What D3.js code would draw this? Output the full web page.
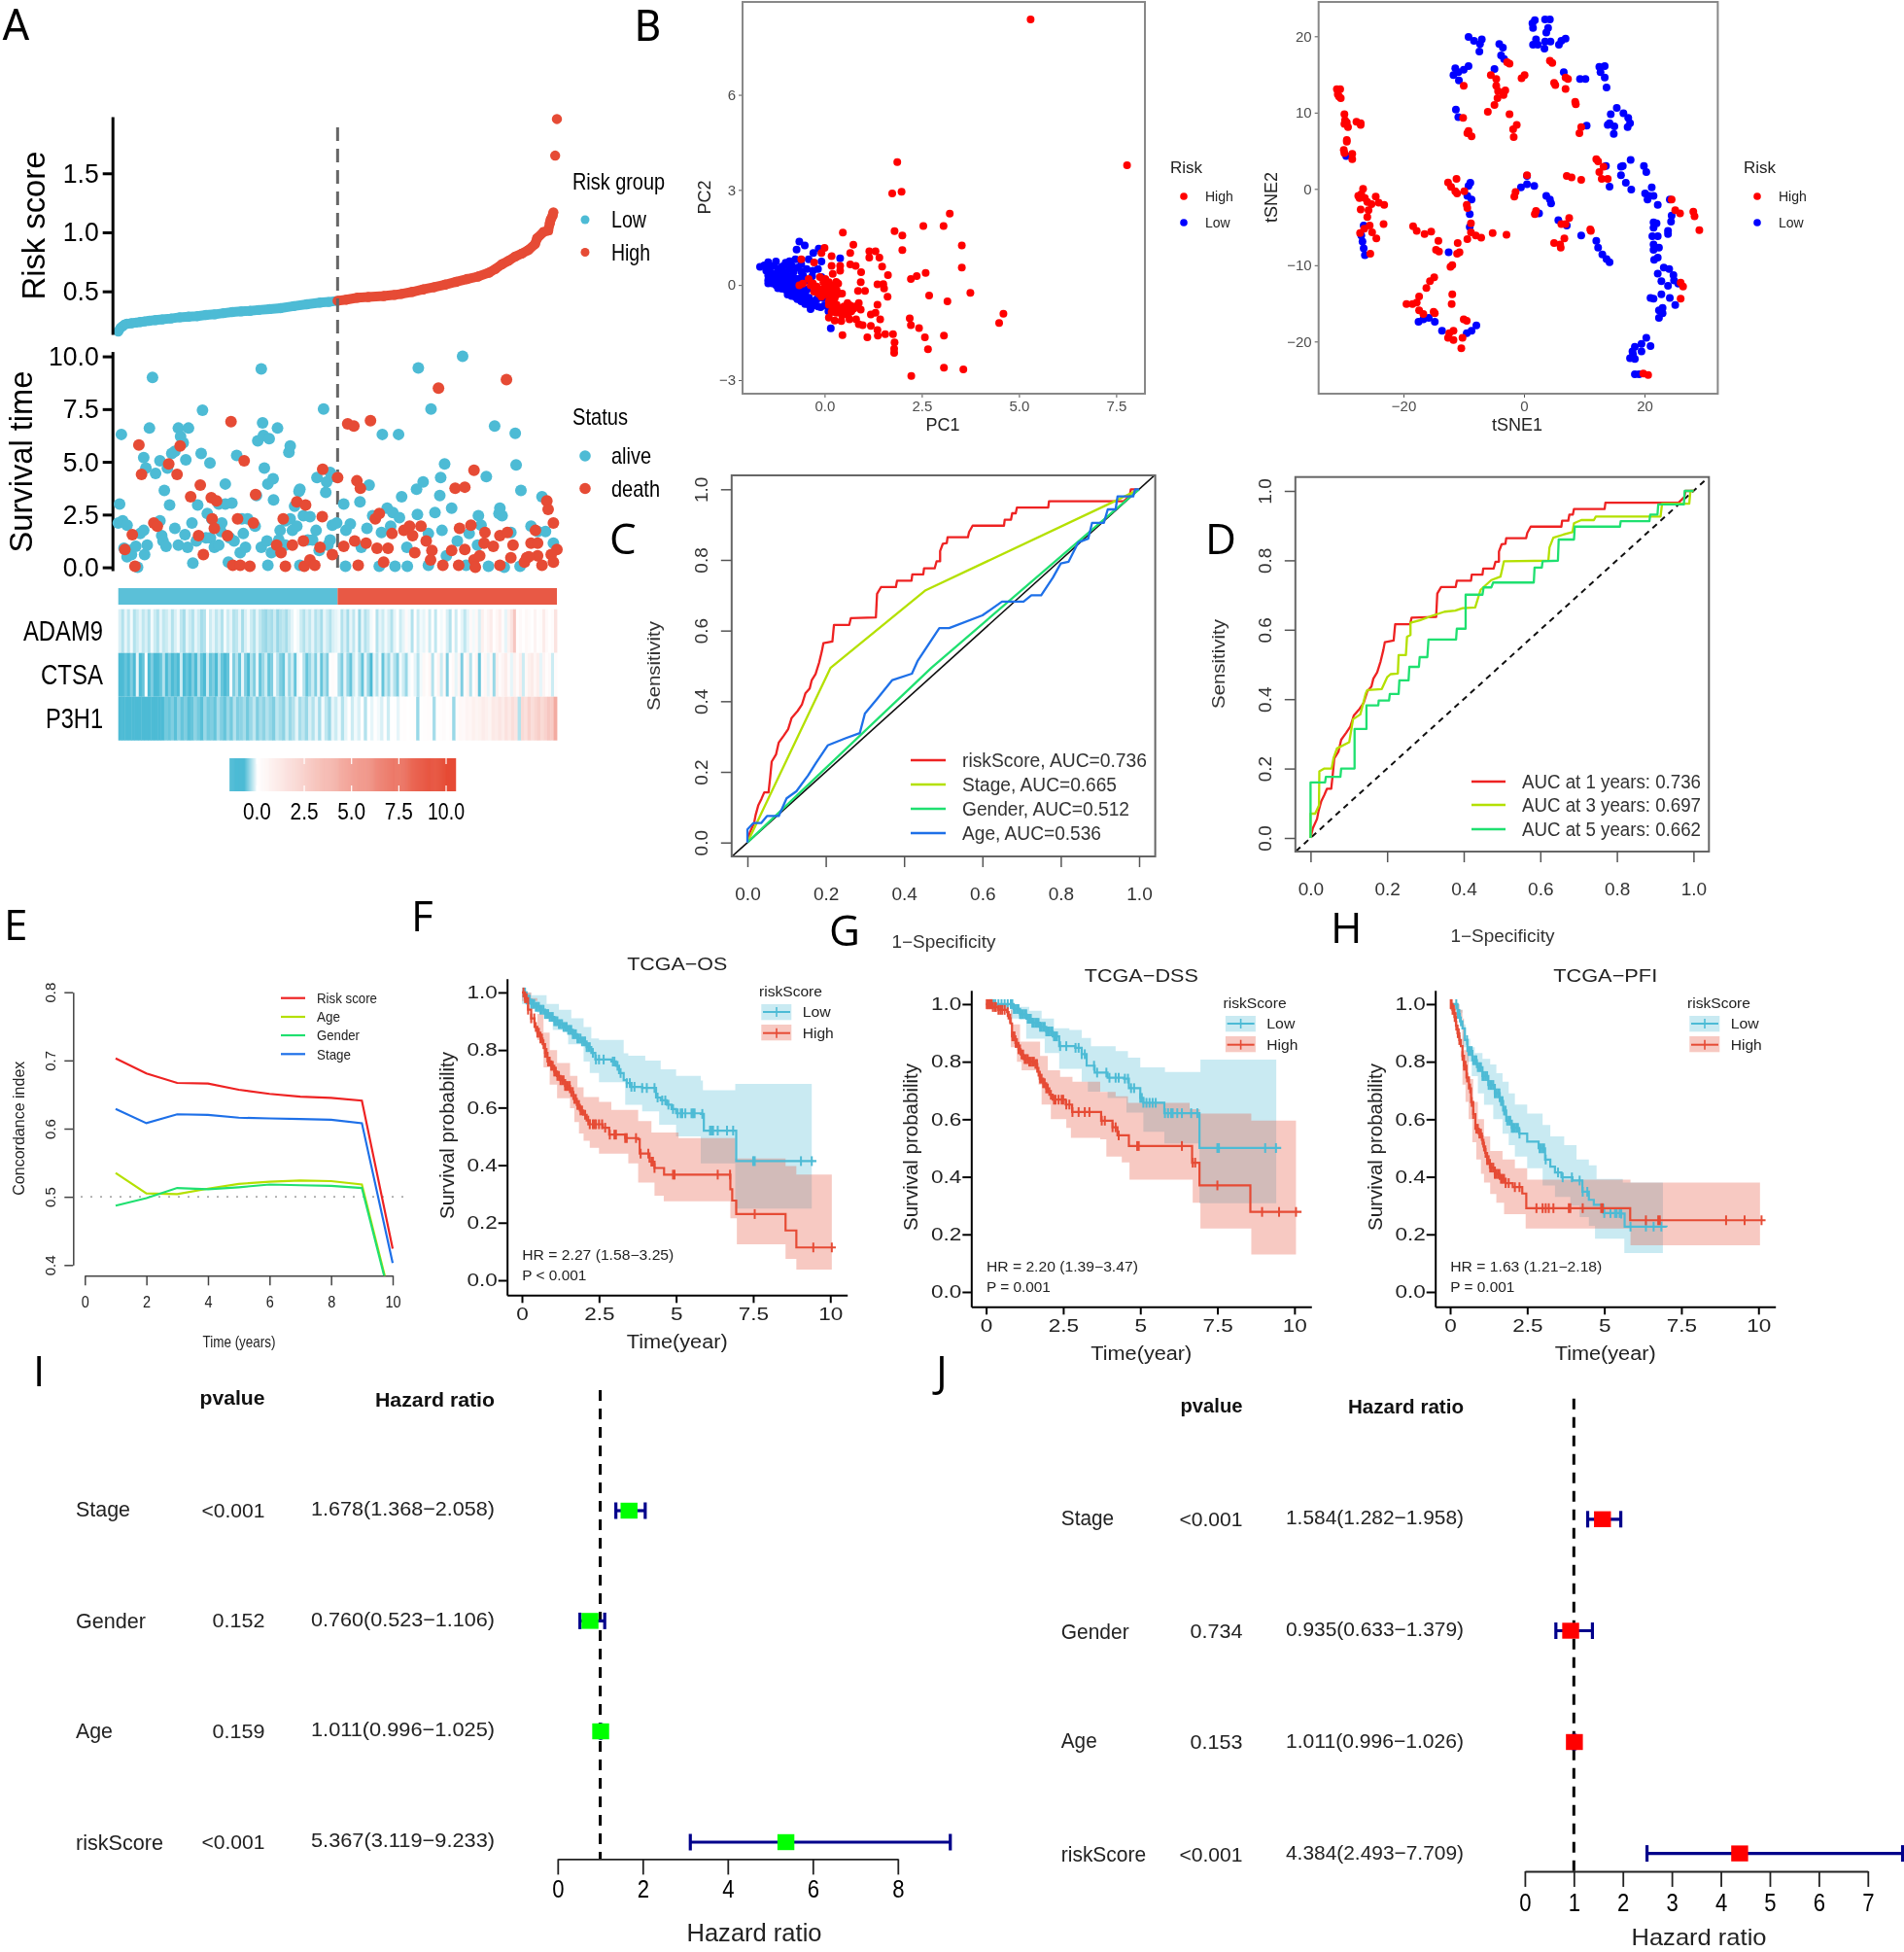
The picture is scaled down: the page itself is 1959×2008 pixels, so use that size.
<!DOCTYPE html>
<html><head><meta charset="utf-8">
<script src="https://cdn.jsdelivr.net/npm/d3@7/dist/d3.min.js"></script>
<style>html,body{margin:0;padding:0;background:#fff}svg{display:block;filter:blur(.45px)}text{font-family:"Liberation Sans",Arial,sans-serif}</style>
</head><body>
<script>
// ---------- Panel A data ----------
const riskCurve=[[0,.16],[.5,.19],[1,.205],[1.5,.22],[2,.225],[3,.23],[4,.235],[5,.24],[6,.245],[7,.25],[8.5,.256],[10,.262],[12,.27],[14,.28],[16,.285],[18,.29],[20,.3],[22,.305],[24,.315],[26,.325],[28,.33],[30,.335],[32,.342],[34.5,.35],[37,.358],[40,.375],[43,.39],[46,.405],[48,.41],[50,.42],[52,.43],[54.5,.446],[57,.452],[60.5,.46],[63,.47],[64.5,.478],[67,.495],[69.5,.516],[72,.535],[74.5,.557],[77,.58],[79.5,.604],[82,.625],[84.5,.658],[86,.69],[87.5,.73],[89,.76],[90.5,.795],[92,.82],[93.5,.85],[95,.9],[95.5,.95],[97,1.005],[98,1.015],[98.4,1.08],[98.6,1.11],[99,1.14],[99.2,1.17]];
const riskOutliers=[[99.6,1.65],[100,1.96]];
const survAlive=[[.7,6.3],[.3,3],[0,2.1],[1,2.2],[2,2],[1.3,.9],[2.5,.8],[2,.5],[3,.6],[4,1],[4.4,0],[6,.6],[5,1.6],[6.6,1.05],[5.8,1.75],[7.1,6.6],[5.8,5.2],[6.3,4.7],[7.8,9],[8.5,4.45],[9.5,5.05],[9.5,2.2],[10.5,3.65],[11.2,4.7],[11.7,2.95],[12.2,5.4],[12.9,5.5],[12.9,1.85],[9.9,1.5],[10.2,1.25],[10.9,1],[13.7,6.6],[14.2,6.2],[14.8,5.9],[16,6.6],[15.4,5.1],[13.7,1.05],[15.2,1.55],[15.8,.95],[16.8,2.1],[17,.2],[18.1,2.95],[17.8,1.25],[18.9,5.4],[19.2,7.45],[20.9,4.95],[20.3,2.55],[21.3,2.3],[20,1.4],[21,1.4],[22.9,3],[24.4,3.95],[24.4,3],[25.9,3.05],[21.9,.95],[22.9,1.05],[23.6,2.1],[23.4,1.7],[25.1,.25],[25.4,1.4],[26.4,1.25],[27,5.3],[27.8,.7],[28.2,2.3],[28.5,1.6],[29.5,2.3],[29,.95],[31.2,1.95],[31.5,3.4],[31.8,6],[32.6,9.4],[32.9,6.85],[33.1,6.25],[33.3,4.7],[34.4,6.1],[36.3,6.6],[34.1,3.95],[35.3,4.2],[35.4,3.2],[32.6,.95],[33.9,1.25],[34.1,.1],[34.9,.7],[38.9,5.45],[39.2,5.75],[36.9,1.75],[36.6,1.3],[38.1,1.05],[39.2,2.3],[38.1,2.2],[39.7,1.75],[40.2,2.9],[41.2,3.6],[41.4,3.7],[42.2,2.45],[43.7,2.4],[40.7,1.95],[41.4,.1],[43.2,1.3],[45.3,4.25],[46.8,7.5],[47.3,3.55],[47.5,4.05],[48.3,4.5],[49.3,4.3],[45.1,1.75],[45.8,.8],[44.3,1.3],[48.3,1.3],[48.8,2],[49.8,2.1],[47.8,1.05],[51.4,3],[51.8,.05],[52.9,2.05],[51.9,1.75],[55.1,3.1],[55.4,.95],[57.2,3.9],[56.7,1.85],[58,2.45],[60,1.65],[59.5,.05],[60.2,6.3],[63.9,6.3],[61.3,2.8],[62.6,2.6],[64.1,2.35],[64.6,3.35],[63.1,.05],[62.1,1.95],[65.8,.95],[65.9,.05],[68,3.7],[68.2,2.5],[68.4,9.45],[69.5,4.05],[70.7,1.6],[70.7,.1],[71.3,7.5],[72.2,2.6],[73.5,4.25],[73.3,3.4],[74.4,4.9],[74.8,.55],[73.8,1.75],[76,2.8],[77.3,1.25],[78.5,10],[79.3,.1],[82.1,2.45],[80,1.6],[81.9,1.05],[83.9,4.3],[84.4,.05],[82.7,2],[85.8,6.7],[86.8,2.55],[87.5,2.45],[87,2.8],[89.5,1.65],[90.5,6.35],[90.7,4.85],[91.8,3.65],[88,0],[91.6,.05],[94.1,1.95],[95.6,1.7],[97.4,1.7],[96.6,3.35],[99.2,1.15]];
const survDeath=[[4.7,5.8],[5.3,4.4],[11.5,4.9],[13.4,4.4],[14.1,5.75],[3.2,1.55],[1.5,.85],[3.8,.05],[8.1,2.1],[8.9,1.95],[16.5,3.35],[18.7,3.9],[21.2,3.3],[22.4,3.15],[25.7,6.9],[28.7,5.05],[31.3,3.45],[18.3,1.5],[19.4,.6],[21.4,2.3],[21.9,1.85],[24.9,1.5],[27.2,2.3],[26.1,.1],[27.8,.1],[30,.05],[30.8,2.1],[36.1,1.05],[37.1,.7],[37.6,2.3],[38.1,.05],[39.7,1.05],[40.7,3.1],[42.7,2.95],[42.2,1.25],[42.4,.05],[43.7,.35],[44.8,.1],[46.5,2.4],[46,.95],[46.6,4.65],[48.8,.6],[50,4.25],[51.4,1],[52.3,6.8],[53.7,6.7],[57.5,6.95],[54.4,4.1],[55.2,3.75],[53.9,1.25],[54.7,.1],[56.5,1.15],[58.6,2.3],[59.5,2.55],[59,.9],[61.5,.9],[60.5,.25],[62.4,1.6],[65.1,1.75],[66.4,1.95],[69,1.95],[67.1,1.5],[67.6,.7],[70.2,1.25],[71.5,.8],[71.2,.35],[73,8.5],[76.8,3.75],[79,3.8],[77.8,1.85],[76,.8],[79,.85],[74,.1],[77.6,.1],[81.1,4.6],[80.4,2],[83.6,1.65],[83.4,1.15],[81.1,.35],[82.4,.55],[81.4,0],[85.5,1],[87,1.5],[88.5,8.9],[88.7,1.65],[90,1.05],[87,.1],[89.5,.45],[93.1,.45],[94.1,1.15],[95.1,1.75],[95.6,1.15],[95.6,.55],[97.7,3.15],[98,2.75],[99.2,2.1],[100,.85],[98.7,.6],[96.6,.1],[99.2,.25],[92.6,.25],[93.6,.5]];
const geneNames=["ADAM9","CTSA","P3H1"];
const adam9=[-.15,-.3,-.1,-.25,-.05,-.3,-.2,-.1,-.25,-.15,-.3,-.05,-.2,-.3,-.1,-.25,-.2,-.1,-.3,-.15,-.05,-.25,-.35,-.1,-.2,-.3,-.1,-.2,-.35,-.3,.05,-.2,-.1,-.25,-.15,-.3,-.05,-.2,-.1,-.3,-.25,-.1,-.35,-.15,-.05,-.2,-.3,-.1,-.25,-.35,-.4,-.3,-.35,-.2,-.4,-.3,-.25,-.35,-.2,-.1,0,-.05,-.2,-.3,-.15,-.25,-.1,-.3,-.2,-.35,-.1,-.2,-.3,-.15,-.1,-.05,-.3,-.15,-.35,-.1,-.25,-.05,-.4,-.1,-.3,-.2,-.05,.1,-.3,-.1,-.2,-.05,-.15,-.3,-.1,.05,-.2,-.1,.3,-.05,-.3,.1,-.2,-.05,-.1,.2,-.2,.05,-.25,0,-.05,.1,-.15,-.3,.1,-.2,0,-.1,-.25,-.1,.3,-.05,.4,-.15,.8,.2,.6,1,.1,.5,.9,.2,-.1,.7,1.5,3,.1,.3,.05,.4,.2,.05,.6,.1,.2,1,.3,.05,.2,1.5];
const ctsa=[-.7,-.7,-.6,-.7,-.5,-.7,-.1,-.7,-.6,0,-.7,-.5,-.7,-.7,-.6,-.3,-.7,-.5,-.7,-.6,-.7,-.2,-.7,-.6,-.7,-.5,-.7,-.3,-.6,-.7,-.2,-.6,-.5,-.7,-.3,-.6,-.7,-.6,-.05,-.5,-.3,-.6,-.1,-.5,-.7,-.3,-.5,-.1,-.6,-.4,-.2,-.6,-.5,-.05,-.3,-.5,-.6,-.1,-.4,-.2,-.6,-.05,.05,-.3,-.6,-.4,-.2,-.5,-.1,-.6,-.3,-.5,.1,.2,.1,-.3,-.5,-.1,-.4,-.6,-.2,-.05,-.3,-.6,-.1,-.4,-.7,-.1,-.3,-.05,-.6,-.2,-.4,-.1,-.3,-.5,-.05,-.2,-.4,-.05,.05,-.1,-.3,-.05,.4,.1,.5,-.3,.1,.6,-.2,.3,-.5,.05,.4,-.1,.5,-.5,.2,.7,-.3,.1,.6,-.6,.2,.5,-.1,.4,-.4,.8,.2,.6,1,.3,-.1,.7,.2,.9,-.2,.4,.8,1.1,.5,.9,-.1,.6,.1,.3,-.2,.2];
const p3h1=[-.7,-.7,-.7,-.7,-.7,-.7,-.7,-.7,-.7,-.7,-.7,-.7,-.7,-.7,-.55,-.6,-.5,-.65,-.45,-.6,-.5,-.65,-.6,-.45,-.55,-.65,-.4,-.55,-.5,-.6,-.35,-.5,-.6,-.4,-.55,-.3,-.5,-.45,-.35,-.55,-.4,-.25,-.5,-.35,-.45,-.3,-.4,-.5,-.25,-.35,-.45,-.2,-.4,-.3,-.1,-.35,-.25,-.4,-.15,-.3,-.1,-.35,-.05,-.25,-.4,-.1,-.2,-.05,-.3,-.1,.05,-.2,-.05,-.15,.05,-.3,0,-.1,.05,-.05,-.15,.05,-.2,0,.05,-.1,.05,.1,0,.05,.1,-.4,.05,.1,.15,.1,-.35,.05,.1,.2,.05,.15,-.4,.2,.4,.3,.6,.5,.8,.6,.7,1,.8,.6,1.2,1,1.4,1,1.6,1.2,1.8,1.4,-.3,2,1.6,2.4,1.8,2.2,2.6,2,2.4,3,2.8,4.5];
const colorTicks=[0,2.5,5,7.5,10];
// ---------- Panel B data ----------
const pcaLow=[[-1.66,.57],[-1.55,.62],[-1.45,.72],[-1.25,.74],[-1.1,.57],[-.85,.62],[-.75,.81],[-.65,1.37],[-.72,1.12],[-.51,1.25],[-.29,1.01],[-.15,1.15],[.4,.84],[-.08,.74],[-.41,.81],[-.17,.5],[-.46,.5],[-.08,.25],[-.32,.27],[.16,-1.37],[-.36,-.76],[-.6,-.52],[-.17,-.68],[.1,-.83],[-.03,-.42],[-1.5,.45],[-1.4,.55],[-1.3,.6],[-1.2,.5],[-1,.7],[-.9,.5],[-.8,.4],[-.7,.55],[-.6,.65],[-.55,.3],[-1.45,.3],[-1.35,.35],[-1.25,.35],[-1.15,.35],[-1.05,.4],[-.95,.3],[-.85,.25],[-.75,.2],[-.65,.2],[-.55,.1],[-.45,.15],[-1.45,.15],[-1.35,.2],[-1.25,.15],[-1.15,.15],[-1.05,.2],[-.95,.1],[-.85,.05],[-.75,.05],[-.65,0],[-1.45,.05],[-1.35,.05],[-1.25,0],[-1.15,0],[-1.05,.02],[-.95,-.05],[-.85,-.1],[-.75,-.1],[-.65,-.15],[-.55,-.1],[-.45,-.15],[-1.2,-.1],[-1.1,-.12],[-1,-.15],[-.9,-.2],[-.8,-.25],[-.7,-.3],[-.6,-.25],[-.5,-.3],[-.4,-.4],[-.95,-.3],[-.85,-.35],[-.75,-.38],[-.65,-.42],[-.55,-.45],[-.45,-.5],[-.35,-.5],[-.25,-.55],[-.7,-.45],[-.5,-.6],[-.4,-.62],[-.3,-.65],[-.1,-.7],[-.2,-.45],[0,-.65],[-.3,.45],[-.6,.42],[-.9,.75],[-1.05,.6]];
const pcaHigh=[[5.3,8.38],[7.78,3.78],[1.87,3.88],[1.74,2.89],[1.98,2.94],[3.22,2.25],[2.54,1.86],[3.06,1.86],[1.8,1.7],[2,1.56],[3.53,1.25],[2,1.1],[.47,1.65],[.74,1.27],[3.53,.55],[2.6,.38],[2.37,.28],[2.22,.19],[3.75,-.25],[2.69,-.33],[3.16,-.52],[4.6,-.91],[4.49,-1.2],[2.19,-1.05],[2.22,-1.27],[2.43,-1.36],[2.58,-1.65],[3.07,-1.6],[2.66,-2.03],[3.07,-2.61],[3.57,-2.66],[2.23,-2.87],[1.8,-1.81],[1.79,-2.01],[1.79,-2.14],[1.76,-1.55],[1.56,-1.55],[1.37,-1.6],[1.1,-1.65],[.46,-1.58],[1.36,-1.42],[1.19,-1.29],[1.43,-1.08],[1.31,-.88],[1.19,-.93],[1.36,-.62],[1.62,-.37],[1.53,-.11],[1.51,.03],[1.36,.02],[1.63,.31],[1.48,.58],[1.41,.86],[1.31,1.06],[1.15,1.06],[1.15,.86],[.94,.4],[.8,.6],[.66,1.01],[.66,.65],[.4,.6],[.18,.91],[0,1.17],[-.08,1.01],[.18,.6],[.93,.09],[.86,-.19],[1.04,-.19],[.88,-.57],[.93,-.78],[.81,-1.08],[.88,-1.24],[.98,-1.27],[.64,-1.08],[.43,-1.14],[.26,-1.12],[.11,-1.03],[.69,-.83],[.5,-.68],[.4,-.83],[.21,-.73],[.11,-.52],[.4,-.27],[.31,-.16],[.21,-.01],[.11,.09],[.02,.19],[.21,.35],[.4,.45],[.35,.04],[.45,-.27],[-.17,-.11],[-.36,-.01],[-.56,.04],[-.65,-.01],[-.41,.19],[-.27,-.21],[-.08,-.37],[.07,-.21],[.16,-.27],[.26,-.42],[-.12,.25],[-.03,.09],[-.27,.71],[-.6,.81],[.11,-.62],[.31,-.62],[.59,-.57],[.79,-.68],[-.2,-.05],[-.1,-.15],[0,-.1],[.05,-.25],[.15,-.1],[.25,-.2],[.3,-.32],[.2,-.5],[.12,-.35],[0,-.3],[-.05,-.2],[-.15,-.28],[-.25,-.1],[-.3,.05],[.05,.02],[.14,-.05],[.3,.1],[.25,-.62],[.35,-.72],[.55,-.8],[.66,-.65],[.75,-.75],[.6,-.95],[.45,-.95],[.3,-.88],[.18,-.85]];
const tsneHigh=[[-31.05,13.08],[-30.5,13.08],[-30.9,12.4],[-30.4,11.9],[-30.7,12.1],[-29.8,9.8],[-29.7,9],[-29.8,8.5],[-29.4,8.7],[-29.2,8.1],[-27.8,8.8],[-27.1,8.6],[-27.1,8.4],[-29.4,6.4],[-29.4,6.2],[-29.9,5.1],[-29.8,4.7],[-28.5,4.6],[-28.5,3.9],[-26.7,0],[-27,-.7],[-27.3,-1.2],[-27.5,-.9],[-26.4,-1.2],[-26,-1.7],[-25.3,-2],[-24.6,-1],[-24.1,-1.8],[-23.2,-2.1],[-27.1,-2.7],[-25.8,-2.8],[-26,-3.7],[-23.3,-4.6],[-25.6,-4.8],[-26.5,-5.2],[-27.2,-5.8],[-25.2,-5.7],[-24.5,-6.5],[-25.5,-8.5],[-18.4,-4.9],[-17.8,-5.5],[-16.5,-5.9],[-15.4,-5.6],[-14.2,-6.8],[-14.6,-8],[-14.1,-8.2],[-11,-7.1],[-10.7,-8.3],[-11.1,-8.5],[-11.9,-10],[-12.2,-10.2],[-14.9,-11.6],[-15.6,-12.1],[-16.2,-13],[-17.4,-14.1],[-17.8,-14.9],[-18.5,-15.1],[-19.5,-15.1],[-17.4,-15.9],[-16.7,-16.4],[-15,-16.1],[-14.8,-16.3],[-11.9,-13.8],[-12,-15.1],[-10,-17.1],[-9.5,-17.3],[-11.7,-18.6],[-12.4,-18.9],[-12.6,-19.5],[-11.7,-19.8],[-10.2,-19.5],[-10.4,-20.9],[-12.6,.85],[-11.2,1.3],[-12.1,.25],[-11.4,-.3],[-11.1,-.6],[-9.9,-.3],[-9.5,-2.1],[-9.4,-2.5],[-8.8,-4.5],[-9.4,-6.6],[-8.8,-5.7],[-8,-6.1],[-7.1,-6.4],[-5.2,-5.8],[-2.9,-6],[-10,13.5],[-10.1,9.3],[-9.2,7.6],[-9.4,7.3],[-8.7,6.9],[-6,10.1],[-5.5,14.9],[-4.6,14.4],[-4.6,13.5],[-4.3,12.8],[-4.4,11.9],[-4.9,11],[-3.1,12.9],[-3.4,12.3],[-2.4,9.8],[-1.2,8.4],[-1.8,7.8],[-1.7,6.8],[-2.8,16.6],[-2.4,16.4],[.1,14.9],[-.4,14.5],[4.3,16.8],[4.7,16.5],[5,13.9],[5.2,13.6],[6.9,14.6],[7.3,14.4],[6.9,13.1],[8.5,11.4],[8.6,11.1],[9.5,8.1],[9.2,7.3],[12,3.9],[12.3,3.6],[13.2,2.9],[12.5,2.2],[12.9,1.3],[13.9,1.3],[7.1,1.7],[7.9,1.5],[9.5,1.2],[.5,1.8],[-1.4,-.4],[-1.6,-1],[1.8,-3.3],[2,-2.9],[7.5,-3.8],[6.2,-4.6],[6.9,-4.6],[11,-5.3],[11.1,-5.5],[6.7,-6.5],[5,-7.1],[6,-7.3],[6.1,-7.7],[24.5,-1.4],[25.1,-2.8],[25.9,-3.2],[28.1,-3],[28.3,-3.6],[29.1,-5.4],[26,-12.3],[26.4,-12.8],[26,-14.4],[19.8,-24.2],[20.6,-24.4]];
const tsneLow=[[-29.5,4.3],[-26.6,-4.8],[-27,-6.1],[-26.8,-6.9],[-26.6,-7.8],[-26.4,-8.7],[-17.5,-17.4],[-16.7,-17.1],[-15.8,-16.9],[-14.8,-17.4],[-13.6,-18.6],[-12.5,-8.3],[-9.5,-18.9],[-8.7,-18.6],[-7.9,-17.9],[-8.9,.8],[-9.2,.4],[-9.4,-.9],[-8.7,-1.4],[-9,-3.3],[-9,-5],[-11.4,15.8],[-10,15.6],[-9.2,16.1],[-10.9,15.3],[-11.7,14.9],[-10.8,14.2],[-11.3,10.4],[-10.9,9.4],[-9.2,19.9],[-8.3,19.4],[-7.3,19],[-7,19.6],[-7.4,18],[-4.1,19],[-3.5,18.5],[-3.8,17.5],[-3.3,17],[-4.9,15.7],[1.8,22.1],[1.4,21.7],[1.5,21.1],[3.5,22.2],[4.3,22.2],[4,21.1],[3.7,20.5],[2,19.6],[1.5,18.9],[2.3,18.9],[3.4,18.4],[3.5,19.3],[4.4,19.3],[5.8,18.9],[6.2,19.4],[6.9,19.7],[6.6,15.3],[9.3,14.4],[10.2,14.4],[12.5,16],[13.4,16.1],[12.7,15.3],[13.4,14.6],[13.7,13.3],[15.4,10.6],[14.4,9.8],[16.5,9.9],[17.3,9.3],[14.2,8.6],[15,8.2],[13.9,8.4],[17.6,8.6],[17.2,8.1],[14.9,7.2],[10.4,8.3],[13.6,3],[16.1,2.9],[16.4,3],[17.7,3.8],[16.1,1.8],[14.2,.3],[16.9,.8],[17.8,-.1],[19.9,3],[20.3,2.2],[21.2,.2],[.5,1.7],[-.5,.2],[.5,.6],[1.7,.4],[3.7,-.9],[4.3,-1.4],[4.5,-1.9],[2.5,-3.2],[5.7,-4.1],[7.1,-4.8],[9.5,-6.1],[12,-6.8],[12.3,-7.7],[13,-8.6],[13.7,-9.2],[14.2,-9.6],[20.1,-.6],[21.5,-.9],[20.5,-1.4],[20.8,-.9],[22.2,-2.1],[24.2,-1.4],[24.5,-3.5],[24.4,-4.3],[23.9,-5.5],[23.9,-5.9],[21.5,-4.4],[22,-4.5],[21.5,-5.1],[21.3,-6.2],[22.2,-6.2],[21.5,-7.3],[22.4,-7.7],[21.5,-8],[22.2,-9],[21.6,-9.3],[23.2,-10.3],[24.1,-10.5],[22.2,-11.1],[24.8,-11.3],[22.8,-12.1],[24.9,-12],[23.9,-12.7],[25.6,-12.4],[22.8,-13.8],[21,-14.3],[21.5,-14.4],[24.2,-14.3],[25.1,-15.2],[23,-15.6],[22.4,-15.9],[23,-16.3],[22.4,-16.9],[20.3,-19.5],[21,-20.6],[19.5,-20.3],[18.4,-20.7],[19.5,-21.3],[18,-21.3],[17.6,-22.2],[18.4,-22.3],[18.1,-21.7],[18.4,-24.3],[19.1,-24.3]];
// ---------- Panels C, D data ----------
const rocRisk=[[0,0],[.006,.028],[.017,.055],[.021,.078],[.028,.106],[.036,.124],[.043,.142],[.054,.142],[.058,.183],[.062,.229],[.073,.249],[.08,.283],[.093,.303],[.104,.321],[.113,.353],[.128,.372],[.139,.39],[.148,.422],[.159,.436],[.164,.459],[.174,.477],[.183,.509],[.19,.541],[.194,.564],[.217,.569],[.221,.616],[.26,.616],[.264,.635],[.328,.637],[.331,.704],[.341,.723],[.379,.723],[.382,.741],[.419,.741],[.421,.759],[.449,.759],[.451,.776],[.478,.776],[.483,.796],[.492,.796],[.492,.825],[.499,.846],[.509,.848],[.511,.864],[.563,.864],[.566,.879],[.575,.897],[.655,.897],[.657,.914],[.673,.914],[.676,.932],[.685,.932],[.688,.948],[.768,.948],[.77,.966],[.961,.966],[.976,.982],[.979,1],[1,1]];
const rocStage=[[0,0],[.212,.494],[.455,.714],[.9375,.966],[1,1]];
const rocGender=[[0,0],[.47,.495],[1,1]];
const rocAge=[[0,0],[0,.037],[.015,.055],[.035,.055],[.05,.075],[.08,.075],[.1,.125],[.125,.145],[.155,.19],[.175,.225],[.205,.275],[.25,.295],[.287,.31],[.3,.365],[.33,.405],[.37,.46],[.42,.478],[.435,.515],[.49,.607],[.515,.607],[.6,.643],[.65,.682],[.705,.682],[.725,.7],[.75,.7],[.78,.75],[.8,.79],[.82,.795],[.845,.85],[.87,.86],[.88,.905],[.91,.905],[.92,.943],[.94,.943],[.945,.98],[.985,.98],[.99,1],[1,1]];
const rocLabelsC=["riskScore, AUC=0.736","Stage, AUC=0.665","Gender, AUC=0.512","Age, AUC=0.536"];
const roc3y=[[0,0],[0,.07],[.012,.07],[.022,.094],[.023,.192],[.036,.2],[.055,.2],[.06,.23],[.069,.258],[.101,.276],[.111,.342],[.13,.356],[.144,.416],[.148,.426],[.186,.429],[.2,.463],[.209,.472],[.228,.474],[.23,.527],[.249,.527],[.252,.58],[.261,.585],[.261,.62],[.285,.627],[.317,.64],[.35,.652],[.378,.655],[.397,.662],[.43,.664],[.444,.715],[.472,.743],[.496,.753],[.505,.797],[.621,.799],[.624,.837],[.634,.865],[.66,.874],[.684,.881],[.688,.907],[.707,.916],[.74,.916],[.745,.926],[.914,.926],[.918,.963],[.989,.963],[.992,1],[1,1]];
const roc5y=[[0,0],[0,.16],[.038,.16],[.04,.176],[.078,.176],[.08,.2],[.115,.2],[.115,.314],[.146,.314],[.146,.382],[.177,.382],[.178,.396],[.205,.396],[.207,.415],[.23,.415],[.232,.454],[.256,.454],[.258,.493],[.283,.493],[.285,.521],[.305,.521],[.308,.572],[.38,.572],[.382,.603],[.405,.603],[.405,.701],[.449,.701],[.452,.722],[.472,.722],[.477,.736],[.583,.736],[.585,.779],[.604,.779],[.606,.797],[.646,.799],[.648,.86],[.688,.86],[.69,.897],[.808,.897],[.81,.913],[.885,.913],[.887,.932],[.906,.932],[.908,.961],[.975,.961],[.977,1],[1,1]];
const rocLabelsD=["AUC at 1 years: 0.736","AUC at 3 years: 0.697","AUC at 5 years: 0.662"];
const rocColors=["#EE2222","#B4E000","#1FE070","#1E70E8"];
// ---------- Panel E data ----------
const years=[1,2,3,4,5,6,7,8,9,10];
const ciRisk=[.703,.681,.667,.666,.657,.651,.647,.645,.641,.424];
const ciAge=[.535,.505,.504,.512,.519,.522,.524,.523,.518,.338];
const ciGender=[.487,.498,.513,.511,.514,.518,.517,.516,.513,.335];
const ciStage=[.629,.608,.621,.62,.616,.615,.614,.613,.608,.403];
const ciLabels=["Risk score","Age","Gender","Stage"];
// ---------- Panels F, G, H data: [time, survival] ----------
const osLow=[[0,1],[.15,.975],[.3,.96],[.45,.95],[.6,.94],[.75,.925],[.9,.915],[1.05,.9],[1.2,.89],[1.35,.88],[1.5,.87],[1.65,.855],[1.8,.84],[1.95,.83],[2.1,.81],[2.25,.79],[2.38,.767],[2.9,.76],[3.05,.745],[3.15,.72],[3.3,.695],[3.4,.685],[3.55,.672],[3.9,.668],[4.35,.635],[4.5,.625],[4.7,.61],[4.85,.595],[5,.58],[5.8,.578],[5.9,.52],[6.95,.414],[9.55,.414]];
const osLowUp=[[0,1],[.3,.99],[.8,.96],[1.2,.94],[1.6,.91],[2,.88],[2.25,.84],[2.5,.835],[3.3,.789],[3.45,.78],[4,.763],[4.5,.733],[5,.71],[5.8,.694],[5.87,.66],[6.92,.682],[9.4,.682]];
const osLowLo=[[0,.96],[.5,.93],[1,.87],[1.5,.82],[2,.76],[2.2,.72],[2.5,.688],[3.35,.61],[3.9,.587],[4.45,.54],[5,.5],[5.8,.406],[6.92,.249],[9.4,.249]];
const osHigh=[[0,1],[.1,.98],[.2,.94],[.3,.91],[.41,.88],[.5,.86],[.6,.84],[.67,.82],[.75,.79],[.83,.76],[.95,.745],[1.05,.725],[1.14,.71],[1.25,.695],[1.4,.675],[1.56,.654],[1.67,.63],[1.78,.609],[1.88,.59],[1.99,.575],[2.1,.555],[2.2,.542],[2.62,.53],[2.83,.506],[3.35,.494],[3.77,.49],[3.82,.44],[4.14,.412],[4.3,.39],[4.61,.367],[6.66,.367],[6.76,.316],[6.82,.277],[6.95,.23],[8.55,.173],[8.9,.114],[10.18,.114]];
const osHighUp=[[0,1],[.3,.98],[.5,.925],[.7,.86],[.9,.8],[1.14,.755],[1.56,.71],[1.8,.67],[2,.637],[2.5,.62],[2.9,.592],[3.77,.553],[4.2,.513],[5.08,.494],[6.92,.423],[8.55,.397],[8.9,.367],[10.05,.367]];
const osHighLo=[[0,.97],[.5,.834],[.7,.74],[.9,.68],[1.14,.632],[1.56,.598],[1.7,.55],[1.85,.51],[2,.485],[2.2,.46],[2.5,.44],[3.45,.406],[3.77,.339],[4.3,.294],[4.6,.274],[6.76,.215],[6.97,.125],[8.55,.074],[8.9,.037],[10.05,.037]];
const osLowCens=[.05,.1,.15,.2,.25,.3,.35,.4,.45,.5,.55,.6,.65,.7,.75,.8,.85,.9,.95,1,1.05,1.1,1.15,1.2,1.25,1.3,1.35,1.4,1.45,1.5,1.55,1.6,1.65,1.7,1.75,1.8,1.85,1.9,1.95,2,2.05,2.1,2.15,2.2,2.3,2.4,2.5,2.65,2.95,3,3.1,3.2,3.4,3.5,3.55,3.65,3.9,4.05,4.3,4.4,4.55,4.65,4.75,4.9,5.05,5.15,5.2,5.3,5.5,5.55,5.6,5.85,6.1,6.15,6.2,6.35,6.65,6.85,7.5,7.55,9.05,9.4];
const osHighCens=[.05,.1,.15,.2,.3,.4,.45,.5,.55,.6,.65,.7,.75,.8,.85,.9,.95,1,1.05,1.1,1.15,1.2,1.25,1.3,1.35,1.4,1.45,1.5,1.55,1.6,1.65,1.7,1.75,1.8,1.85,1.9,1.95,2.05,2.15,2.2,2.3,2.35,2.4,2.5,2.6,2.7,2.85,3,3.05,3.35,3.4,3.7,3.85,4.1,4.2,4.25,4.3,4.9,4.95,6.35,6.75,7.55,9.45,10.05];
const dssLow=[[0,1],[.58,1],[.89,.983],[1.1,.965],[1.31,.949],[1.5,.935],[1.74,.921],[1.95,.905],[2.16,.888],[2.37,.854],[2.89,.848],[3.1,.826],[3.26,.786],[3.52,.762],[3.94,.744],[4.47,.741],[4.63,.708],[5,.674],[5.1,.657],[5.78,.621],[6.92,.5],[9.57,.5]];
const dssLowUp=[[0,1],[.6,1],[1,.99],[1.4,.977],[1.8,.95],[2.2,.916],[2.7,.91],[3.1,.882],[3.4,.854],[4.2,.837],[4.6,.814],[5,.78],[5.8,.764],[6.95,.807],[9.41,.807]];
const dssLowLo=[[0,.99],[.8,.95],[1.3,.88],[1.9,.83],[2.37,.775],[3.1,.73],[3.3,.696],[3.94,.674],[4.55,.623],[5.1,.556],[5.78,.516],[6.92,.308],[9.41,.308]];
const dssHigh=[[0,1],[.2,.99],[.4,.98],[.68,.972],[.73,.95],[.79,.933],[.84,.888],[.95,.865],[1.05,.843],[1.12,.825],[1.21,.809],[1.4,.8],[1.58,.792],[1.66,.765],[1.74,.741],[1.85,.725],[1.95,.707],[2.05,.685],[2.16,.668],[2.58,.651],[2.79,.625],[3.73,.595],[4.1,.572],[4.26,.544],[4.63,.507],[6.68,.449],[6.92,.37],[8.57,.278],[10.23,.278]];
const dssHighUp=[[0,1],[.7,.98],[.85,.93],[1.1,.87],[1.75,.82],[2,.77],[2.4,.747],[2.8,.73],[3.7,.695],[4.2,.68],[4.6,.657],[6.6,.635],[6.93,.62],[8.6,.595],[10.05,.595]];
const dssHighLo=[[0,.98],[.8,.85],[1,.8],[1.15,.77],[1.7,.72],[1.8,.651],[2.1,.6],[2.6,.57],[2.75,.535],[3.7,.53],[3.9,.47],[4.4,.45],[4.65,.39],[6.7,.31],[6.95,.22],[8.6,.13],[10.05,.13]];
const dssLowCens=[.2,.25,.3,.4,.5,.6,.7,.8,.85,.9,.95,1,1.05,1.1,1.15,1.2,1.25,1.3,1.35,1.4,1.45,1.5,1.55,1.6,1.65,1.7,1.75,1.8,1.85,1.9,1.95,2,2.05,2.1,2.15,2.2,2.25,2.3,2.4,2.6,2.9,3,3.1,3.2,3.5,3.6,3.9,4,4.2,4.3,4.5,4.6,4.7,4.8,5,5.05,5.1,5.2,5.3,5.4,5.5,5.8,5.9,6,6.05,6.2,6.35,6.65,6.85,7.5,7.55,9.05,9.4];
const dssHighCens=[.02,.06,.1,.14,.18,.22,.28,.32,.4,.46,.52,.6,.7,.78,.85,.88,.92,.96,1,1.05,1.1,1.15,1.2,1.25,1.3,1.35,1.4,1.45,1.5,1.55,1.6,1.65,1.7,1.75,1.8,1.85,1.9,1.95,2,2.1,2.2,2.25,2.35,2.45,2.5,2.6,2.7,2.8,3,3.2,3.35,3.75,3.85,4.1,4.2,4.3,4.9,4.95,6.35,6.7,6.78,7.5,8.95,9.5,10.05];
const pfiLow=[[0,1],[.24,.966],[.32,.94],[.4,.916],[.48,.875],[.56,.837],[.72,.805],[.87,.781],[1.05,.75],[1.24,.719],[1.45,.69],[1.61,.663],[1.72,.63],[1.82,.595],[2,.57],[2.24,.55],[2.5,.522],[2.87,.499],[3.08,.46],[3.25,.435],[3.4,.415],[3.61,.398],[3.97,.387],[4.29,.348],[4.5,.32],[4.66,.303],[4.97,.274],[5.55,.272],[5.66,.227],[7.02,.225]];
const pfiLowUp=[[0,1],[.3,.97],[.4,.93],[.5,.88],[.65,.85],[.8,.83],[1.05,.81],[1.3,.79],[1.5,.76],[1.7,.73],[1.9,.69],[2.1,.651],[2.5,.62],[3,.58],[3.25,.54],[3.7,.51],[4.1,.46],[4.5,.44],[4.75,.393],[5.6,.38],[6.9,.38]];
const pfiLowLo=[[0,.98],[.4,.85],[.55,.8],[.7,.75],[.9,.69],[1.1,.65],[1.4,.6],[1.7,.55],[1.9,.51],[2.1,.47],[2.5,.43],[3,.37],[3.4,.33],[3.9,.3],[4.2,.26],[4.5,.23],[4.7,.185],[5.65,.135],[6.9,.135]];
const pfiHigh=[[0,1],[.08,.98],[.14,.955],[.19,.925],[.24,.899],[.3,.875],[.35,.854],[.4,.82],[.45,.786],[.53,.745],[.61,.707],[.68,.66],[.75,.618],[.82,.567],[.93,.55],[1.03,.528],[1.08,.505],[1.14,.483],[1.2,.458],[1.29,.432],[1.45,.41],[1.61,.393],[1.8,.378],[2.03,.364],[2.34,.342],[2.47,.291],[5.84,.249],[10.23,.249]];
const pfiHighUp=[[0,1],[.3,.95],[.45,.84],[.6,.74],[.75,.66],[.9,.6],[1.1,.54],[1.3,.49],[1.7,.46],[2.1,.43],[2.5,.39],[5.85,.38],[10.05,.38]];
const pfiHighLo=[[0,.98],[.4,.72],[.5,.66],[.6,.6],[.72,.52],[.85,.46],[1,.41],[1.1,.38],[1.3,.34],[1.5,.31],[1.75,.27],[2.45,.22],[5.85,.162],[10.05,.162]];
const pfiLowCens=[.2,.25,.3,.35,.55,.6,.65,.7,.75,.8,.85,.9,.95,1,1.05,1.1,1.15,1.2,1.25,1.3,1.35,1.4,1.45,1.5,1.55,1.6,1.65,1.7,1.75,1.8,1.85,1.9,1.95,2,2.05,2.1,2.15,2.2,2.25,2.9,2.95,3,3.05,3.1,3.5,3.65,3.95,4.2,4.3,4.45,5,5.2,5.35,5.4,5.5,5.55,5.85,6.35,6.6,6.85];
const pfiHighCens=[.02,.05,.08,.12,.15,.18,.2,.25,.28,.3,.4,.45,.5,.55,.65,.7,.75,.85,.9,.95,1,1.05,1.1,1.15,1.2,1.25,1.3,1.35,1.4,1.45,1.5,1.55,1.6,1.65,1.7,1.75,1.8,1.9,2.1,2.25,2.8,3,3.1,3.2,3.35,3.85,3.9,4.3,4.9,4.95,6.35,6.75,6.8,8.95,9.55,10.1];
// ---------- Panels I, J data ----------
const coxVars=["Stage","Gender","Age","riskScore"];
const coxIP=["<0.001","0.152","0.159","<0.001"];
const coxIHR=[1.678,.760,1.011,5.367];
const coxILo=[1.368,.523,.996,3.119];
const coxIHi=[2.058,1.106,1.025,9.233];
const coxIText=["1.678(1.368−2.058)","0.760(0.523−1.106)","1.011(0.996−1.025)","5.367(3.119−9.233)"];
const coxJP=["<0.001","0.734","0.153","<0.001"];
const coxJHR=[1.584,.935,1.011,4.384];
const coxJLo=[1.282,.633,.996,2.493];
const coxJHi=[1.958,1.379,1.026,7.709];
const coxJText=["1.584(1.282−1.958)","0.935(0.633−1.379)","1.011(0.996−1.026)","4.384(2.493−7.709)"];

// ---------- drawing ----------
const BLUE="#4DBBD5",RED="#E64B35";
const svg=d3.select("body").append("svg").attr("width",1959).attr("height",2008).attr("viewBox","0 0 1959 2008");
const defs=svg.append("defs");
function T(x,y,s,o={}){
  const t=svg.append("text").text(s).attr("font-size",o.size||16).attr("fill",o.fill||"#000")
    .attr("text-anchor",o.anchor||"start").attr("dy",".35em");
  if(o.weight)t.attr("font-weight",o.weight);
  if(o.family)t.style("font-family",o.family);
  if(o.rotate)t.attr("transform",`translate(${x},${y}) rotate(${o.rotate})`); else t.attr("x",x).attr("y",y);
  if(o.width)t.attr("textLength",o.width).attr("lengthAdjust","spacingAndGlyphs");
  return t;
}
function letter(s,x,y,fam){svg.append("text").text(s).attr("x",x).attr("y",y).attr("font-size",44).style("font-family",fam).attr("fill","#000");}
[["A",2,41,"Roboto"],["B",653,42,"Roboto"],["C",627,570,"'Open Sans'"],["D",1240,570,"'Open Sans'"],["E",4,967,"'Open Sans'"],["F",423,958,"'Open Sans'"],["G",853,973,"'Open Sans'"],["H",1369,970,"'Open Sans'"],["I",34,1426,"'Open Sans'"],["J",963,1426,"'Open Sans'"]].forEach(d=>letter(...d));
function axis(x,y,scale,kind,vals,fmt,o={}){
  const a=d3[kind](scale).tickValues(vals).tickFormat(fmt).tickSize(o.len==null?8:o.len).tickPadding(o.pad==null?3:o.pad).tickSizeOuter(0);
  const g=svg.append("g").attr("transform",`translate(${x},${y})`).call(a);
  g.attr("font-size",o.size||16);
  g.selectAll("text").attr("fill",o.fill||"#000").style("font-family",'"Liberation Sans"');
  g.selectAll("line").attr("stroke",o.stroke||"#000").attr("stroke-width",o.sw||1.5);
  g.select(".domain").attr("stroke",o.stroke||"#000").attr("stroke-width",o.sw||1.5);
  if(o.noDomain)g.select(".domain").remove();
  if(o.kx)g.selectAll("text").each(function(){this.setAttribute("textLength",this.getComputedTextLength()*o.kx);this.setAttribute("lengthAdjust","spacingAndGlyphs");});
  if(o.rot!=null)g.selectAll("text").attr("transform","rotate(-90)").attr("x",0).attr("y",-o.rot).attr("dy",0).attr("text-anchor","middle");
  return g;
}
const f1=d3.format(".1f");

// ---- A ----
const aX=d3.scaleLinear().domain([0,100]).range([121.7,573]);
const aRisk=d3.scaleLinear().domain([.135,1.98]).range([344,120]);
const aSurv=d3.scaleLinear().domain([-.157,10.23]).range([587,361.6]);
const heatColor=d3.scaleLinear().domain([-.7,0,9.7]).range([BLUE,"#ffffff",RED]).clamp(true);
const rLine=d3.line().x(d=>aX(d[0])).y(d=>aRisk(d[1]));
svg.append("path").attr("d",rLine(riskCurve.filter(d=>d[0]<=50))).attr("fill","none").attr("stroke",BLUE).attr("stroke-width",10);
svg.append("path").attr("d",rLine(riskCurve.filter(d=>d[0]>=50))).attr("fill","none").attr("stroke",RED).attr("stroke-width",10);
svg.append("g").selectAll("circle").data(riskCurve.concat(riskOutliers)).join("circle").attr("cx",d=>aX(d[0])).attr("cy",d=>aRisk(d[1])).attr("r",5.2).attr("fill",d=>d[0]<50?BLUE:RED);
axis(115.7,0,aRisk,"axisLeft",[.5,1,1.5],f1,{size:28,len:10,pad:4,sw:3,kx:.95});
axis(115.7,0,aSurv,"axisLeft",[0,2.5,5,7.5,10],f1,{size:28,len:10,pad:4,sw:3,kx:.95});
T(34,232,"Risk score",{size:34,anchor:"middle",rotate:-90,width:153});
T(21,475,"Survival time",{size:34,anchor:"middle",rotate:-90,width:187});
svg.append("line").attr("x1",aX(50)).attr("x2",aX(50)).attr("y1",131).attr("y2",584).attr("stroke","#666").attr("stroke-width",3).attr("stroke-dasharray","14 8");
svg.append("g").selectAll("circle").data(survAlive).join("circle").attr("cx",d=>aX(d[0])).attr("cy",d=>aSurv(d[1])).attr("r",6).attr("fill",BLUE);
svg.append("g").selectAll("circle").data(survDeath).join("circle").attr("cx",d=>aX(d[0])).attr("cy",d=>aSurv(d[1])).attr("r",6).attr("fill",RED);
T(589,187,"Risk group",{size:24,width:95});
[["Low",226,BLUE],["High",259.5,RED]].forEach(d=>{svg.append("circle").attr("cx",602).attr("cy",d[1]).attr("r",4.5).attr("fill",d[2]);T(629,d[1],d[0],{size:24,width:d[0]=="Low"?36:40});});
T(589,429,"Status",{size:24,width:57});
[["alive",469,BLUE],["death",502.5,RED]].forEach(d=>{svg.append("circle").attr("cx",602).attr("cy",d[1]).attr("r",5.8).attr("fill",d[2]);T(629,d[1],d[0],{size:24,width:d[0]=="alive"?41:50});});
svg.append("rect").attr("x",aX(0)).attr("y",605).attr("width",aX(50)-aX(0)).attr("height",17).attr("fill",BLUE).attr("opacity",.92);
svg.append("rect").attr("x",aX(50)).attr("y",605).attr("width",aX(100)-aX(50)).attr("height",17).attr("fill",RED).attr("opacity",.92);
const heatRow=d3.scaleBand().domain(geneNames).range([626.7,761.7]);
[adam9,ctsa,p3h1].forEach((vals,i)=>{
  const bx=d3.scaleBand().domain(d3.range(vals.length)).range([aX(0),aX(100)]);
  svg.append("g").selectAll("rect").data(vals).join("rect").attr("x",(d,j)=>bx(j)).attr("width",bx.bandwidth()+.4).attr("y",heatRow(geneNames[i])).attr("height",heatRow.bandwidth()).attr("fill",d=>heatColor(d));
  T(106,heatRow(geneNames[i])+heatRow.bandwidth()/2,geneNames[i],{size:29,anchor:"end",width:[82,64,59][i]});
});
const cb=d3.scaleLinear().domain([0,10]).range([264.4,459]);
const cbVals=d3.range(-1.45,10.46,.05);
svg.append("g").selectAll("rect").data(cbVals).join("rect").attr("x",d=>cb(d)).attr("y",780).attr("width",cb(.05)-cb(0)+.5).attr("height",34).attr("fill",d=>heatColor(d));
svg.append("g").selectAll("g").data(colorTicks).join("g").each(function(d){
  const g=d3.select(this);g.append("line").attr("x1",cb(d)).attr("x2",cb(d)).attr("y1",780).attr("y2",786).attr("stroke","#fff").attr("stroke-width",1.2);
  g.append("line").attr("x1",cb(d)).attr("x2",cb(d)).attr("y1",808).attr("y2",814).attr("stroke","#fff").attr("stroke-width",1.2);
});
colorTicks.forEach(d=>T(cb(d),835,f1(d),{size:23,anchor:"middle",width:d==10?38:29}));

// ---- B ----
function scatterBox(o){
  const x=d3.scaleLinear().domain(o.xd).range(o.xr),y=d3.scaleLinear().domain(o.yd).range(o.yr);
  axis(0,o.yr[0],x,"axisBottom",o.xt,o.xf,{size:15,len:4,pad:3,fill:"#4d4d4d",stroke:"#555",sw:1,noDomain:true});
  axis(o.xr[0],0,y,"axisLeft",o.yt,d3.format("d"),{size:15,len:4,pad:3,fill:"#4d4d4d",stroke:"#555",sw:1,noDomain:true});
  [[o.low,"#0000FF"],[o.high,"#FF0000"]].forEach(s=>svg.append("g").selectAll("circle").data(s[0]).join("circle").attr("cx",d=>x(d[0])).attr("cy",d=>y(d[1])).attr("r",4).attr("fill",s[1]));
  svg.append("rect").attr("x",o.xr[0]).attr("y",o.yr[1]).attr("width",o.xr[1]-o.xr[0]).attr("height",o.yr[0]-o.yr[1]).attr("fill","none").attr("stroke","#888").attr("stroke-width",2);
  T(o.lx,172,"Risk",{size:17,fill:"#222"});
  [["High",202,"#FF0000"],["Low",229,"#0000FF"]].forEach(d=>{svg.append("circle").attr("cx",o.lx+14).attr("cy",d[1]).attr("r",3.8).attr("fill",d[2]);T(o.lx+36,d[1],d[0],{size:14,fill:"#222"});});
  T((o.xlab[1]),437,o.xlab[0],{size:18,anchor:"middle",fill:"#222"});
  T(o.ylab[1],203,o.ylab[0],{size:18,anchor:"middle",rotate:-90,fill:"#222"});
}
scatterBox({low:pcaLow,high:pcaHigh,xd:[-2.11,8.24],xr:[764,1178],yd:[-3.43,8.93],yr:[405,2],xt:[0,2.5,5,7.5],xf:f1,yt:[-3,0,3,6],lx:1204,xlab:["PC1",970],ylab:["PC2",725]});
scatterBox({low:tsneLow,high:tsneHigh,xd:[-34.08,32.16],xr:[1356.7,1767.4],yd:[-26.84,24.5],yr:[405,2],xt:[-20,0,20],xf:d3.format("d"),yt:[-20,-10,0,10,20],lx:1794,xlab:["tSNE1",1561],ylab:["tSNE2",1308]});

// ---- C, D ----
function rocPanel(o){
  const x=d3.scaleLinear().domain([0,1]).range(o.xr),y=d3.scaleLinear().domain([0,1]).range(o.yr);
  const [L,R,Tp,B]=o.box;
  const id="clip"+o.id;
  defs.append("clipPath").attr("id",id).append("rect").attr("x",L).attr("y",Tp).attr("width",R-L).attr("height",B-Tp);
  const ln=d3.line().x(d=>x(d[0])).y(d=>y(d[1]));
  svg.append("line").attr("clip-path",`url(#${id})`).attr("x1",x(-.1)).attr("y1",y(-.1)).attr("x2",x(1.1)).attr("y2",y(1.1)).attr("stroke","#111").attr("stroke-width",o.dash?2:1.6).attr("stroke-dasharray",o.dash||null);
  o.series.forEach((s,i)=>svg.append("path").attr("d",ln(s)).attr("fill","none").attr("stroke",rocColors[i]).attr("stroke-width",2.3).attr("stroke-linejoin","round"));
  svg.append("rect").attr("x",L).attr("y",Tp).attr("width",R-L).attr("height",B-Tp).attr("fill","none").attr("stroke","#666").attr("stroke-width",2);
  const vals=[0,.2,.4,.6,.8,1];
  const gx=axis(0,B,x,"axisBottom",vals,f1,{size:19,len:11,pad:0,fill:"#333",stroke:"#555",sw:1.5,noDomain:true});
  gx.selectAll("text").attr("y",o.xLabY-B).attr("dy",".35em");
  axis(L,0,y,"axisLeft",vals,f1,{size:19,len:11,fill:"#333",stroke:"#555",sw:1.5,noDomain:true,rot:25});
  T(o.sens[0],o.sens[1],"Sensitivity",{size:18,anchor:"middle",rotate:-90,fill:"#333",width:92});
  T(o.spec[0],o.spec[1],"1−Specificity",{size:18,anchor:"middle",fill:"#333",width:107});
  o.labels.forEach((s,i)=>{
    svg.append("line").attr("x1",o.lg[0]).attr("x2",o.lg[1]).attr("y1",o.lgY[i]).attr("y2",o.lgY[i]).attr("stroke",rocColors[i]).attr("stroke-width",2.3);
    T(o.lg[2],o.lgY[i],s,{size:20,fill:"#333",width:o.lgW[i]});
  });
}
rocPanel({id:"c",series:[rocRisk,rocStage,rocGender,rocAge],xr:[769,1172],yr:[866.7,503.3],box:[752.8,1188.6,489,881],xLabY:919,sens:[673,685],spec:[971,969],labels:rocLabelsC,lg:[937,973,990],lgY:[782,807,832,857],lgW:[190,159,172,143]});
rocPanel({id:"d",series:[rocRisk,roc3y,roc5y],xr:[1348.4,1742.4],yr:[862,505],box:[1332.8,1758.3,490.7,876],xLabY:914,sens:[1254,683],spec:[1546,963],labels:rocLabelsD,lg:[1514,1549,1566],lgY:[804,828,853],lgW:[184,184,184],dash:"6 5"});

// ---- E ----
const eX=d3.scaleLinear().domain([0,10]).range([87.3,404]);
const eY=d3.scaleLinear().domain([.4,.8]).range([1301.3,1020.7]);
axis(75.3,0,eY,"axisLeft",[.4,.5,.6,.7,.8],f1,{size:15,len:9,stroke:"#444",sw:1.5,fill:"#222",rot:18});
axis(0,1312.3,eX,"axisBottom",[0,2,4,6,8,10],d3.format("d"),{size:17,len:10,pad:11,stroke:"#444",sw:1.5,fill:"#222",kx:.85});
T(19,1160.7,"Concordance index",{size:16,anchor:"middle",rotate:-90,fill:"#222",width:138});
T(246,1380,"Time (years)",{size:17,anchor:"middle",fill:"#222",width:75});
svg.append("line").attr("x1",83).attr("x2",417).attr("y1",eY(.5)).attr("y2",eY(.5)).attr("stroke","#aaa").attr("stroke-width",1.6).attr("stroke-dasharray","2 8");
defs.append("clipPath").attr("id","clipE").append("rect").attr("x",70).attr("y",1010).attr("width",360).attr("height",302.3);
const eLine=d3.line().x(d=>eX(d[0])).y(d=>eY(d[1]));
const eColors=["#EE2222","#B4E000","#1FE070","#1E70E8"];
[ciRisk,ciAge,ciGender,ciStage].forEach((s,i)=>{
  svg.append("path").attr("clip-path","url(#clipE)").attr("d",eLine(years.map((y,j)=>[y,s[j]]))).attr("fill","none").attr("stroke",eColors[i]).attr("stroke-width",2.2);
  const ly=[1026.7,1046,1065,1084.3][i];
  svg.append("line").attr("x1",289).attr("x2",314).attr("y1",ly).attr("y2",ly).attr("stroke",eColors[i]).attr("stroke-width",2.2);
  T(326,ly,ciLabels[i],{size:15,fill:"#222",width:[62,24,44,35][i]});
});

// ---- F, G, H ----
function stepVal(arr,t){let v=arr[0][1];for(const d of arr){if(d[0]<=t)v=d[1];else break;}return v;}
function kmPanel(o){
  const dx=o.dx,dy=o.dy;
  const x=d3.scaleLinear().domain([-.4823,10.55]).range([521.7+dx,871.7+dx]);
  const y=d3.scaleLinear().domain([-.0517,1.048]).range([1332.3+dy,1006.7+dy]);
  const band=(up,lo,c)=>{
    const ts=Array.from(new Set(up.concat(lo).map(d=>d[0]))).sort(d3.ascending);
    const a=d3.area().curve(d3.curveStepAfter).x(t=>x(t)).y0(t=>y(stepVal(lo,t))).y1(t=>y(stepVal(up,t)));
    svg.append("path").attr("d",a(ts)).attr("fill",c).attr("opacity",.3);
  };
  band(o.lowUp,o.lowLo,BLUE);band(o.highUp,o.highLo,RED);
  const l=d3.line().curve(d3.curveStepAfter).x(d=>x(d[0])).y(d=>y(d[1]));
  [[o.low,BLUE,o.lowCens],[o.high,RED,o.highCens]].forEach(s=>{
    svg.append("path").attr("d",l(s[0])).attr("fill","none").attr("stroke",s[1]).attr("stroke-width",2.2);
    svg.append("g").selectAll("line").data(s[2]).join("line").attr("x1",d=>x(d)).attr("x2",d=>x(d)).attr("y1",d=>y(stepVal(s[0],d))-5).attr("y2",d=>y(stepVal(s[0],d))+5).attr("stroke",s[1]).attr("stroke-width",2);
  });
  axis(521.7+dx,0,y,"axisLeft",[0,.2,.4,.6,.8,1],f1,{size:18,len:9,pad:1,sw:2,kx:1.25,fill:"#222"});
  axis(0,1332.3+dy,x,"axisBottom",[0,2.5,5,7.5,10],d=>String(d),{size:18,len:8,pad:5,sw:2,kx:1.25,fill:"#222"});
  T(696.7+dx,991+dy,o.title,{size:19,anchor:"middle",fill:"#222",width:o.tw});
  T(459.3+dx,1168+dy,"Survival probability",{size:21,anchor:"middle",rotate:-90,fill:"#222",width:172});
  T(696.7+dx,1380+dy,"Time(year)",{size:20,anchor:"middle",fill:"#222",width:104});
  T(781+dx,1020+dy,"riskScore",{size:14,fill:"#222",width:65});
  [["Low",1033,BLUE,1041],["High",1054,RED,1062.7]].forEach(d=>{
    svg.append("rect").attr("x",783.3+dx).attr("y",d[1]+dy).attr("width",31).attr("height",16.3).attr("fill",d[2]).attr("opacity",.3);
    svg.append("line").attr("x1",785+dx).attr("x2",813+dx).attr("y1",d[3]+dy).attr("y2",d[3]+dy).attr("stroke",d[2]).attr("stroke-width",2);
    svg.append("line").attr("x1",799+dx).attr("x2",799+dx).attr("y1",d[3]+dy-5).attr("y2",d[3]+dy+5).attr("stroke",d[2]).attr("stroke-width",1.6);
    T(825.7+dx,d[3]+dy,d[0],{size:14,fill:"#222",width:d[0]=="Low"?29:32});
  });
  T(537.3+dx,1291+dy,o.hr,{size:14,fill:"#222",width:156});
  T(537.3+dx,1312+dy,o.p,{size:14,fill:"#222",width:o.pw});
}
kmPanel({dx:0,dy:0,title:"TCGA−OS",tw:103,hr:"HR = 2.27 (1.58−3.25)",p:"P < 0.001",pw:66,low:osLow,lowUp:osLowUp,lowLo:osLowLo,high:osHigh,highUp:osHighUp,highLo:osHighLo,lowCens:osLowCens,highCens:osHighCens});
kmPanel({dx:477.6,dy:12,title:"TCGA−DSS",tw:117,hr:"HR = 2.20 (1.39−3.47)",p:"P = 0.001",pw:66,low:dssLow,lowUp:dssLowUp,lowLo:dssLowLo,high:dssHigh,highUp:dssHighUp,highLo:dssHighLo,lowCens:dssLowCens,highCens:dssHighCens});
kmPanel({dx:955,dy:12,title:"TCGA−PFI",tw:107,hr:"HR = 1.63 (1.21−2.18)",p:"P = 0.001",pw:66,low:pfiLow,lowUp:pfiLowUp,lowLo:pfiLowLo,high:pfiHigh,highUp:pfiHighUp,highLo:pfiHighLo,lowCens:pfiLowCens,highCens:pfiHighCens});

// ---- I, J ----
function forest(o){
  const x=d3.scaleLinear().domain([0,o.max]).range(o.xr);
  const hdr={size:20,anchor:"end",weight:"bold",fill:"#111"};
  T(o.pR,o.hdrY[0],"pvalue",Object.assign({width:o.pW},hdr));
  T(o.hrR,o.hdrY[1],"Hazard ratio",Object.assign({width:o.hrW},hdr));
  svg.append("line").attr("x1",x(1)).attr("x2",x(1)).attr("y1",o.dashY).attr("y2",o.axisY).attr("stroke","#000").attr("stroke-width",3).attr("stroke-dasharray","11 8");
  coxVars.forEach((v,i)=>{
    T(o.nameX,o.nameY[i],v,{size:22,fill:"#222",width:[56,72,38,90][i]*o.k});
    T(o.pR,o.pY[i],o.p[i],{size:21,anchor:"end",fill:"#222",width:o.p[i].length==6?65:54});
    T(o.hrR,o.hrY[i],o.txt[i],{size:21,anchor:"end",fill:"#222",width:o.txtW});
    const g=svg.append("g").attr("stroke","#00008B").attr("stroke-width",3.2);
    const my=o.markY[i];
    g.append("line").attr("x1",x(o.lo[i])).attr("x2",x(o.hi[i])).attr("y1",my).attr("y2",my);
    g.append("line").attr("x1",x(o.lo[i])).attr("x2",x(o.lo[i])).attr("y1",my-8.5).attr("y2",my+8.5);
    g.append("line").attr("x1",x(o.hi[i])).attr("x2",x(o.hi[i])).attr("y1",my-8.5).attr("y2",my+8.5);
    svg.append("rect").attr("x",x(o.hr[i])-8.7).attr("y",my-8.2).attr("width",17.4).attr("height",16.4).attr("fill",o.col);
  });
  const g=axis(0,o.axisY,x,"axisBottom",o.ticks,d3.format("d"),{size:26,len:16,pad:0,sw:1.8,stroke:"#222",kx:.85});
  g.selectAll("text").attr("y",o.tickLabY-o.axisY).attr("dy",".35em");
  T(o.xlab[0],o.xlab[1],"Hazard ratio",{size:o.xlab[3],anchor:"middle",fill:"#222",width:o.xlab[2]});
}
forest({max:8,xr:[573.8,923.8],ticks:[0,2,4,6,8],col:"#00FF00",pR:272.5,hrR:509,hdrY:[1438,1440],dashY:1430,axisY:1912.4,tickLabY:1942.6,nameX:78,nameY:[1552.3,1667.4,1780,1895],pY:[1553.9,1667,1781,1895],hrY:[1552,1666,1779,1893],markY:[1554,1667.4,1781,1895],p:coxIP,txt:coxIText,hr:coxIHR,lo:coxILo,hi:coxIHi,xlab:[776,1988,139,25],pW:67,hrW:123,txtW:189,k:1});
forest({max:7,xr:[1568.9,1921.8],ticks:[0,1,2,3,4,5,6,7],col:"#FF0000",pR:1278.5,hrR:1506,hdrY:[1445.5,1447],dashY:1438.8,axisY:1925,tickLabY:1957,nameX:1091.8,nameY:[1560.9,1678,1790.7,1907.7],pY:[1562.8,1678,1792,1907.7],hrY:[1561,1676,1790.7,1905.8],markY:[1562.8,1677.5,1792,1906.6],p:coxJP,txt:coxJText,hr:coxJHR,lo:coxJLo,hi:coxJHi,xlab:[1748,1993,139,24],pW:64,hrW:119,txtW:183,k:.97});
</script>
</body></html>
